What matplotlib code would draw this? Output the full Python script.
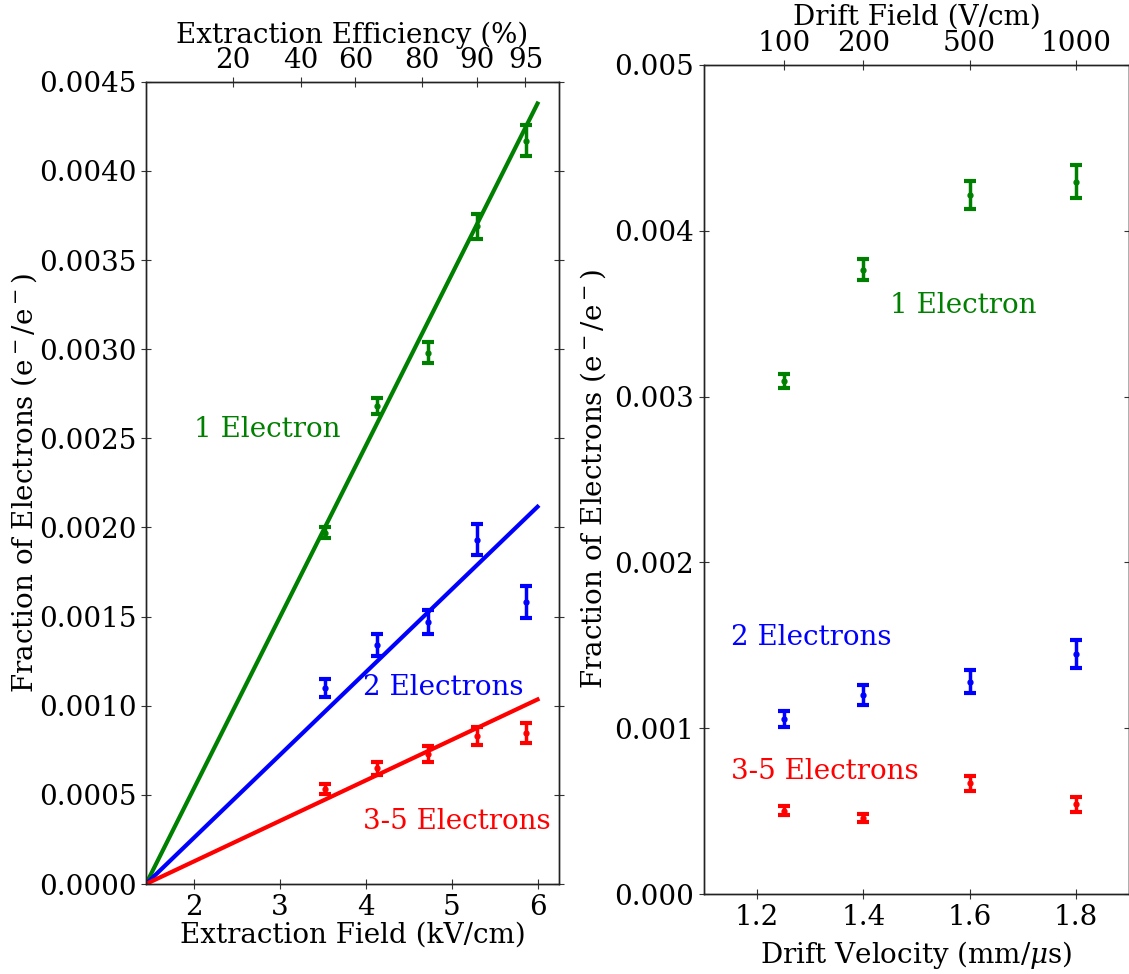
import numpy as np
import matplotlib
matplotlib.use("Agg")
import matplotlib.pyplot as plt

plt.rcParams['font.family'] = ['DejaVu Serif']
plt.rcParams['mathtext.fontset'] = 'dejavuserif'

# ---- left panel: extraction field scan ----
ext_field = [3.53, 4.13, 4.72, 5.29, 5.87]          # kV/cm
one_e = [0.00197, 0.00268, 0.00298, 0.00369, 0.00417]
one_e_err = [0.00003, 0.000045, 0.00006, 0.00007, 0.000085]
two_e = [0.00110, 0.00134, 0.00147, 0.00193, 0.00158]
two_e_err = [0.00005, 0.00006, 0.000068, 0.000087, 0.00009]
many_e = [0.000534, 0.000648, 0.00073, 0.000828, 0.000846]
many_e_err = [0.000028, 0.000035, 0.000043, 0.00005, 0.000056]

# linear fits y = slope * (E - E0)
fit_E0 = 1.44
fit_Emax = 6.0
fit_slopes = [0.000960, 0.000464, 0.000227]

eff_labels = ['20', '40', '60', '80', '90', '95']
eff_field = [2.45, 3.24, 3.88, 4.65, 5.29, 5.86]

# ---- right panel: drift field scan ----
drift_vel = [1.25, 1.4, 1.6, 1.8]                  # mm/us
d_one = [0.003094, 0.003765, 0.004215, 0.004297]
d_one_err = [0.00004, 0.000062, 0.000085, 0.0001]
d_two = [0.001056, 0.001201, 0.00128, 0.001449]
d_two_err = [0.000047, 0.00006, 0.00007, 0.000085]
d_many = [0.000503, 0.000457, 0.000668, 0.000541]
d_many_err = [0.000025, 0.000025, 0.000045, 0.000045]

drift_labels = ['100', '200', '500', '1000']
drift_ticks = [1.25, 1.4, 1.6, 1.8]

colors = ['g', 'b', 'r']
names = ['1 Electron', '2 Electrons', '3-5 Electrons']

fig = plt.figure(figsize=(11.29, 9.74), dpi=100)
ax1 = fig.add_axes([0.1293, 0.0924, 0.3658, 0.8237])
ax2 = fig.add_axes([0.6236, 0.0821, 0.3764, 0.8512])

TICK_FS = 20
LABEL_FS = 20
eb_kw = dict(fmt='.', markersize=7, elinewidth=2.5, capsize=4.5, capthick=3)


def style(ax):
    for s in ax.spines.values():
        s.set_color('#222222')
        s.set_linewidth(1.0)
    ax.tick_params(direction='inout', length=7, width=0.8, labelsize=TICK_FS,
                   top=False, right=True, color='#333333')


# left
for vals, errs, c in zip([one_e, two_e, many_e], [one_e_err, two_e_err, many_e_err], colors):
    ax1.errorbar(ext_field, vals, yerr=errs, color=c, **eb_kw)
for slope, c in zip(fit_slopes, colors):
    xs = np.array([fit_E0, fit_Emax])
    ax1.plot(xs, slope * (xs - fit_E0), color=c, lw=3)

ax1.set_xlim(1.44, 6.25)
ax1.set_ylim(0, 0.0045)
ax1.set_xticks([2, 3, 4, 5, 6])
ax1.set_yticks(np.arange(0, 0.00451, 0.0005))
ax1.yaxis.set_major_formatter(matplotlib.ticker.FormatStrFormatter('%.4f'))
style(ax1)
ax1.set_xlabel('Extraction Field (kV/cm)', fontsize=LABEL_FS, labelpad=1)
ax1.set_ylabel(r'Fraction of Electrons (e$^-$/e$^-$)', fontsize=LABEL_FS, labelpad=0)
ax1.text(2.0, 0.00255, names[0], color='g', fontsize=LABEL_FS, va='center')
ax1.text(3.97, 0.0011, names[1], color='b', fontsize=LABEL_FS, va='center')
ax1.text(3.97, 0.00035, names[2], color='r', fontsize=LABEL_FS, va='center')

top1 = ax1.twiny()
top1.set_xlim(ax1.get_xlim())
top1.set_xticks(eff_field)
top1.set_xticklabels(eff_labels)
style(top1)
top1.tick_params(top=True, labeltop=True, bottom=False, right=False, left=False, pad=2)
top1.set_xlabel('Extraction Efficiency (%)', fontsize=LABEL_FS, labelpad=3)

# right
for vals, errs, c in zip([d_one, d_two, d_many], [d_one_err, d_two_err, d_many_err], colors):
    ax2.errorbar(drift_vel, vals, yerr=errs, color=c, **eb_kw)

ax2.set_xlim(1.1, 1.9)
ax2.set_ylim(0, 0.005)
ax2.set_xticks([1.2, 1.4, 1.6, 1.8])
ax2.set_yticks(np.arange(0, 0.00501, 0.001))
ax2.yaxis.set_major_formatter(matplotlib.ticker.FormatStrFormatter('%.3f'))
style(ax2)
ax2.set_xlabel(r'Drift Velocity (mm/$\mu$s)', fontsize=LABEL_FS, labelpad=6)
ax2.set_ylabel(r'Fraction of Electrons (e$^-$/e$^-$)', fontsize=LABEL_FS, labelpad=5)
ax2.text(1.45, 0.00355, names[0], color='g', fontsize=LABEL_FS, va='center')
ax2.text(1.15, 0.00155, names[1], color='b', fontsize=LABEL_FS, va='center')
ax2.text(1.15, 0.00074, names[2], color='r', fontsize=LABEL_FS, va='center')

top2 = ax2.twiny()
top2.set_xlim(ax2.get_xlim())
top2.set_xticks(drift_ticks)
top2.set_xticklabels(drift_labels)
style(top2)
top2.tick_params(top=True, labeltop=True, bottom=False, right=False, left=False, pad=2)
top2.set_xlabel('Drift Field (V/cm)', fontsize=LABEL_FS, labelpad=4)

fig.savefig('out.png', dpi=100)
